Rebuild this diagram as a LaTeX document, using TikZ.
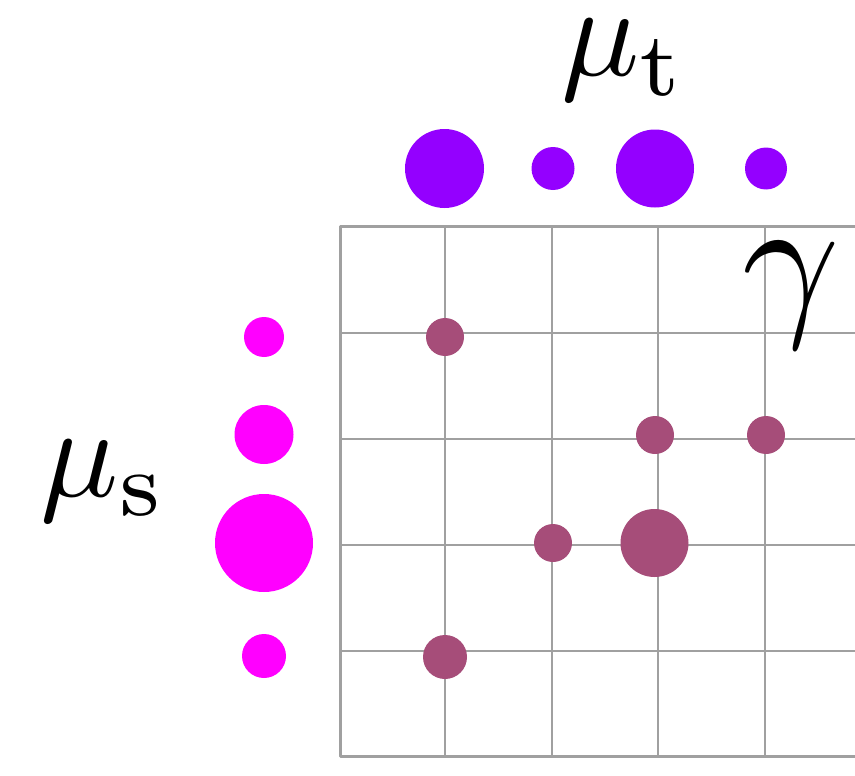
\documentclass[tikz,border=0pt]{standalone}
\usepackage{amsmath}
\usetikzlibrary{positioning}
\definecolor{tgtviolet}{RGB}{148,0,255}
\definecolor{srcmagenta}{RGB}{255,0,255}
\definecolor{planmauve}{RGB}{166,77,121}
\definecolor{gridgray}{RGB}{160,160,160}

\begin{document}
\begin{tikzpicture}[x=1pt, y=-1pt,
  mass/.style={circle, inner sep=0pt, minimum size=#1pt},
  gridline/.style={gridgray, line width=2pt},
  frameline/.style={gridgray, line width=3pt, line join=round},
  biglabel/.style={scale=#1, anchor=base, inner sep=0pt}]
\useasboundingbox (0,0) rectangle (855,776);
\clip (0,0) rectangle (855,776);
% grid of the coupling
\foreach \x in {445,552,658,765}
  \draw[gridline] (\x,226.5) -- (\x,756);
\foreach \y in {333,439,545,651}
  \draw[gridline] (340.5,\y) -- (880,\y);
\draw[frameline] (880,226.5) -- (340.5,226.5) -- (340.5,756) -- (880,756);
% target marginal
\foreach \i/\x/\d in {1/444.5/79, 2/553/43, 3/655/78, 4/766/42}
  \node[mass=\d, fill=tgtviolet] (t\i) at (\x,168.5) {};
% source marginal
\foreach \i/\y/\d in {1/337/40, 2/434.5/59, 3/543/98, 4/656/44}
  \node[mass=\d, fill=srcmagenta] (s\i) at (264,\y) {};
% transport plan
\foreach \i/\x/\y/\d in {1/445/337/38, 2/655/435/38, 3/766/435/38,
  4/553/543/38, 5/654.5/543/68, 6/445/657/44}
  \node[mass=\d, fill=planmauve] (p\i) at (\x,\y) {};
% labels
\node[biglabel=13] (mut) at (624,76) {$\mu_{\mathrm{t}}$};
\node[biglabel=13] (mus) at (104,496) {$\mu_{\mathrm{s}}$};
\node[biglabel=17] (gam) at (791,315) {$\gamma$};
\end{tikzpicture}
\end{document}
